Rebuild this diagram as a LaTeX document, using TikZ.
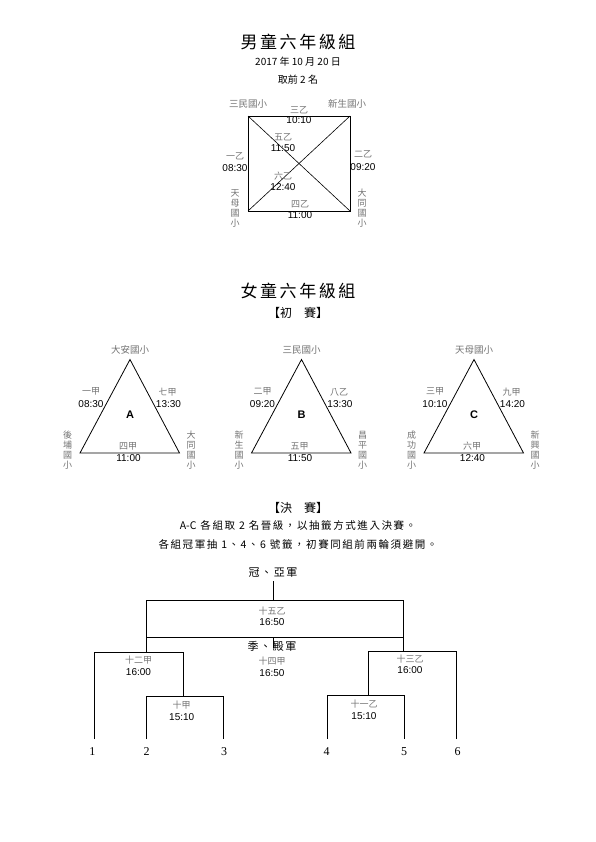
\documentclass[tikz,border=0pt]{standalone}
\usepackage{fontspec}
\setmainfont{Liberation Serif}
\newfontfamily\cjk{Noto Sans CJK TC}
\newfontfamily\cjksp[LetterSpace=15]{Noto Sans CJK TC}
\newfontfamily\tmfont{Liberation Sans}

\begin{document}
\begin{tikzpicture}[x=1pt,y=-1pt,inner sep=0pt,
    ttl/.style={font=\cjksp\fontsize{17}{19}\selectfont},
    sub/.style={font=\cjk\fontsize{10}{12}\selectfont},
    head/.style={font=\cjk\fontsize{12}{14}\selectfont},
    note/.style={font=\cjksp\fontsize{10.5}{12}\selectfont},
    rank/.style={font=\cjksp\fontsize{11}{13}\selectfont},
    school/.style={text=black!55,font=\cjk\fontsize{9.5}{10}\selectfont},
    vschool/.style={text=black!55,align=center,font=\cjk\fontsize{9}{10}\selectfont},
    game/.style={text=black!55,font=\cjk\fontsize{9}{10}\selectfont},
    tm/.style={font=\tmfont\fontsize{10}{12}\selectfont},
    grp/.style={font=\tmfont\bfseries\fontsize{11}{12}\selectfont},
    seat/.style={font=\fontsize{12}{14}\selectfont},
    ln/.style={line width=0.8pt}]
\useasboundingbox (0,0) rectangle (595,842);

% boys
\node[ttl] (t-boys) at (298,41.5) {男童六年級組};
\node[sub] (date) at (298,62) {2017 年 10 月 20 日};
\node[sub] (take) at (298,79.5) {取前 2 名};

\coordinate (s-nw) at (248,116);
\coordinate (s-ne) at (350,116);
\coordinate (s-sw) at (248,211);
\coordinate (s-se) at (350,211);
\draw[ln] (s-nw) rectangle (s-se);
\draw[line width=0.6pt] (s-nw) -- (s-se) (s-ne) -- (s-sw);

\node[school] (sq-nw) at (248,104) {三民國小};
\node[school] (sq-ne) at (347,104) {新生國小};
\node[vschool] (sq-sw) at (235,208) {天\\母\\國\\小};
\node[vschool] (sq-se) at (362,208) {大\\同\\國\\小};
\node[game] (g3b) at (299,110) {三乙};
\node[tm] (t3b) at (299,120.5) {10:10};
\node[game] (g5b) at (283,137.5) {五乙};
\node[tm] (t5b) at (283,148) {11:50};
\node[game] (g1b) at (235,156.5) {一乙};
\node[tm] (t1b) at (235,168) {08:30};
\node[game] (g2b) at (363,154) {二乙};
\node[tm] (t2b) at (363,167) {09:20};
\node[game] (g6b) at (283,176) {六乙};
\node[tm] (t6b) at (283,187) {12:40};
\node[game] (g4b) at (300,204.5) {四乙};
\node[tm] (t4b) at (300,215.5) {11:00};

% girls
\node[ttl] (t-girls) at (298,290.5) {女童六年級組};
\node[head] (prelim) at (298,313) {【初　賽】};

\foreach \g/\x/\sch/\lg/\lt/\rg/\rt/\bg/\bt/\vl/\vr in {
    A/130/大安國小/一甲/08:30/七甲/13:30/四甲/11:00/{後\\埔\\國\\小}/{大\\同\\國\\小},
    B/301.5/三民國小/二甲/09:20/八乙/13:30/五甲/11:50/{新\\生\\國\\小}/{昌\\平\\國\\小},
    C/474/天母國小/三甲/10:10/九甲/14:20/六甲/12:40/{成\\功\\國\\小}/{新\\興\\國\\小}}
{
  \coordinate (ap-\g) at (\x,359.5);
  \coordinate (bl-\g) at (\x-50,453);
  \coordinate (br-\g) at (\x+49.5,453);
  \draw[ln] (ap-\g) -- (bl-\g) -- (br-\g) -- cycle;
  \node[school] (top-\g) at (\x,349.5) {\sch};
  \node[game] (lg-\g) at (\x-39,391.5) {\lg};
  \node[tm] (lt-\g) at (\x-39,404) {\lt};
  \node[game] (rg-\g) at (\x+37.5,392) {\rg};
  \node[tm] (rt-\g) at (\x+38.5,404) {\rt};
  \node[grp] (lab-\g) at (\x,415) {\g};
  \node[game] (bg-\g) at (\x-2,446.5) {\bg};
  \node[tm] (bt-\g) at (\x-1.5,458.5) {\bt};
  \node[vschool] (vl-\g) at (\x-62.5,450.5) {\vl};
  \node[vschool] (vr-\g) at (\x+61,450.5) {\vr};
}

% finals
\node[head] (final) at (298,508) {【決　賽】};
\node[note] (rule1) at (298,525) {{\cjk A-C} 各組取 2 名晉級，以抽籤方式進入決賽。};
\node[note] (rule2) at (298,544) {各組冠軍抽 1、4、6 號籤，初賽同組前兩輪須避開。};

\node[rank] (champ) at (273,573) {冠、亞軍};
\coordinate (f-top) at (273,600.5);
\coordinate (f-l) at (146,600.5);
\coordinate (f-r) at (403.5,600.5);
\coordinate (f-ml) at (146,637);
\coordinate (f-mr) at (403.5,637);
\coordinate (f-mid) at (273,637);
\coordinate (f-bot) at (273,648);
\coordinate (q12-l) at (94.3,652);
\coordinate (q12-m) at (146,652);
\coordinate (q12-r) at (183.3,652);
\coordinate (q10-m) at (183.3,696);
\coordinate (q10-l) at (146.7,696);
\coordinate (q10-r) at (223.3,696);
\coordinate (q13-l) at (368.3,651);
\coordinate (q13-m) at (403.5,651);
\coordinate (q13-r) at (456,651);
\coordinate (q11-m) at (368.3,695);
\coordinate (q11-l) at (327.3,695);
\coordinate (q11-r) at (404,695);
\foreach \i/\x in {1/94.3,2/146.7,3/223.3,4/327.3,5/404,6/456}
  \coordinate (s\i) at (\x,739);

\draw[ln,shorten <=3pt] (champ.south) -- (f-top);
\draw[ln] (f-l) -- (f-r) (f-ml) -- (f-mr) (f-mid) -- (f-bot);
\draw[ln] (f-l) -- (q12-m) (f-r) -- (q13-m);
\draw[ln] (s1) -- (q12-l) -- (q12-r) -- (q10-m);
\draw[ln] (s2) -- (q10-l) -- (q10-r) -- (s3);
\draw[ln] (s6) -- (q13-r) -- (q13-l) -- (q11-m);
\draw[ln] (s4) -- (q11-l) -- (q11-r) -- (s5);

\node[rank] (third) at (272,646) {季、殿軍};
\node[game] (g15b) at (272,611) {十五乙};
\node[tm] (t15b) at (272,622) {16:50};
\node[game] (g14a) at (272,661) {十四甲};
\node[tm] (t14a) at (272,673) {16:50};
\node[game] (g12a) at (138.5,660) {十二甲};
\node[tm] (t12a) at (138.5,672) {16:00};
\node[game] (g13b) at (410,659) {十三乙};
\node[tm] (t13b) at (410,670) {16:00};
\node[game] (g10a) at (181.7,705.5) {十甲};
\node[tm] (t10a) at (181.7,717) {15:10};
\node[game] (g11b) at (364,704) {十一乙};
\node[tm] (t11b) at (364,716) {15:10};

\foreach \i/\x in {1/92.3,2/146.7,3/224,4/326.7,5/404,6/457.7}
  \node[seat] (n\i) at (\x,752) {\i};
\end{tikzpicture}
\end{document}
